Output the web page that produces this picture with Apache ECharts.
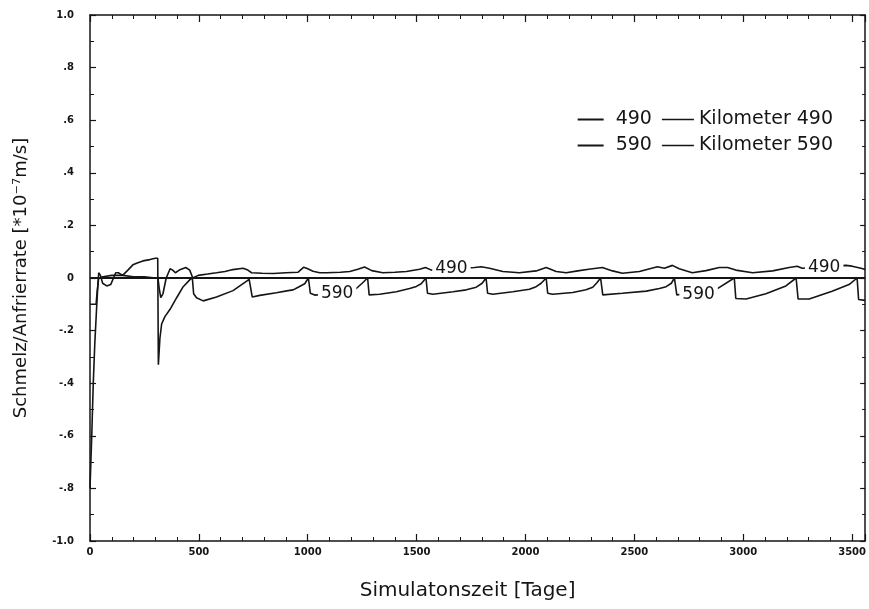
<!DOCTYPE html>
<html>
<head>
<meta charset="utf-8">
<script src="https://cdn.jsdelivr.net/npm/echarts@6/dist/echarts.min.js"></script>
<style>
html,body{margin:0;padding:0;background:#fff;}
#chart{width:869px;height:609px;}
</style>
</head>
<body>
<div id="chart"></div>
<script>
// ---- data ----
const days490 = [0,28,33,40,60,100,150,200,250,300,312,318,325,335,350,368,380,392,410,440,458,472,480,497,540,581,620,656,703,725,742,790,841,900,956,982,1000,1024,1055,1086,1150,1193,1230,1261,1294,1345,1400,1453,1514,1541,1568,1600,1650,1700,1736,1766,1797,1835,1896,1972,2049,2095,2141,2187,2240,2290,2353,2400,2445,2523,2606,2638,2675,2706,2766,2829,2890,2928,2966,3043,3135,3211,3248,3271,3320,3400,3472,3500,3541,3560];
const rate490 = [-0.1,-0.1,-0.05,0.0,0.005,0.01,0.01,0.005,0.005,0.0,0.0,-0.04,-0.075,-0.06,0.0,0.035,0.03,0.02,0.03,0.04,0.03,0.0,0.005,0.01,0.015,0.02,0.025,0.032,0.037,0.03,0.02,0.018,0.017,0.02,0.022,0.041,0.035,0.026,0.02,0.02,0.022,0.025,0.033,0.042,0.028,0.02,0.022,0.025,0.033,0.04,0.03,0.03,0.032,0.035,0.038,0.04,0.043,0.037,0.025,0.02,0.027,0.04,0.025,0.02,0.027,0.033,0.04,0.027,0.018,0.025,0.043,0.037,0.048,0.035,0.02,0.028,0.04,0.04,0.03,0.02,0.027,0.04,0.045,0.037,0.04,0.045,0.048,0.045,0.037,0.032];

const days590 = [0,8,15,22,30,36,40,48,58,77,95,108,118,130,150,174,197,220,243,275,300,311,314,321,329,344,367,398,428,459,470,476,489,520,581,657,731,737,745,780,856,910,933,956,986,1003,1012,1032,1080,1130,1180,1223,1250,1275,1282,1330,1407,1468,1499,1521,1543,1550,1575,1667,1728,1774,1801,1819,1826,1850,1942,2018,2049,2072,2095,2102,2125,2217,2278,2309,2329,2345,2355,2445,2555,2615,2646,2670,2684,2695,2740,2800,2876,2959,2966,3013,3104,3196,3243,3252,3303,3408,3486,3523,3530,3560];
const rate590 = [-0.8,-0.6,-0.4,-0.25,-0.12,-0.03,0.02,0.01,-0.02,-0.03,-0.025,0.0,0.02,0.02,0.01,0.03,0.05,0.058,0.065,0.07,0.075,0.075,-0.33,-0.23,-0.175,-0.147,-0.12,-0.075,-0.033,-0.006,0.0,-0.06,-0.075,-0.087,-0.072,-0.048,-0.005,0.0,-0.072,-0.066,-0.056,-0.048,-0.045,-0.035,-0.022,0.0,-0.058,-0.065,-0.062,-0.058,-0.052,-0.04,-0.02,0.0,-0.064,-0.062,-0.052,-0.04,-0.032,-0.022,0.0,-0.058,-0.062,-0.052,-0.045,-0.035,-0.02,0.0,-0.058,-0.062,-0.052,-0.043,-0.033,-0.02,0.0,-0.058,-0.062,-0.055,-0.045,-0.035,-0.017,0.0,-0.064,-0.058,-0.05,-0.04,-0.033,-0.02,0.0,-0.064,-0.06,-0.053,-0.043,0.0,-0.078,-0.08,-0.06,-0.03,0.0,-0.08,-0.08,-0.05,-0.025,0.0,-0.082,-0.085];

// inline curve labels [day, value]
const label490Pos = [[1660, 0.036], [3372, 0.04]];
const label590Pos = [[1135, -0.06], [2795, -0.062]];

const yTickLabels = ['-1.0','-.8','-.6','-.4','-.2','0','.2','.4','.6','.8','1.0'];
const seriesNames = ['Kilometer 490', 'Kilometer 590'];
const curveTags = ['490', '590'];

const INK = '#151515';
const pair = (xs, ys) => xs.map((x, i) => [x, ys[i]]);

const chart = echarts.init(document.getElementById('chart'), null, {renderer: 'canvas'});

const tickFont = {fontFamily: 'DejaVu Sans', fontSize: 10, fontWeight: 'bold', color: INK};
const inlineLabel = (txt) => ({
  show: true, position: 'inside', formatter: txt,
  fontFamily: 'DejaVu Sans', fontSize: 17, color: INK,
  backgroundColor: '#fff', padding: [0, 3]
});

const option = {
  backgroundColor: '#fff',
  animation: false,
  grid: {left: 90, right: 3, top: 15, bottom: 68},
  legend: {
    orient: 'vertical',
    right: 31, top: 105,
    itemGap: 7,
    itemWidth: 26, itemHeight: 2,
    icon: 'rect',
    data: seriesNames,
    formatter: (name) => {
      const tag = curveTags[seriesNames.indexOf(name)];
      return '{n|' + tag + '}{l|}{t|' + name + '}';
    },
    textStyle: {
      color: INK, fontFamily: 'DejaVu Sans', fontSize: 19,
      rich: {
        n: {fontFamily: 'DejaVu Sans', fontSize: 19, color: INK, padding: [0, 10, 0, 7]},
        l: {width: 32, height: 1.6, backgroundColor: INK},
        t: {fontFamily: 'DejaVu Sans', fontSize: 19, color: INK, padding: [0, 0, 0, 5]}
      }
    }
  },
  xAxis: [{
    type: 'value', position: 'bottom', min: 0, max: 3560, interval: 500,
    name: 'Simulatonszeit [Tage]', nameLocation: 'middle', nameGap: 40,
    nameTextStyle: {fontFamily: 'DejaVu Sans', fontSize: 20, color: INK, padding: [0, 20, 0, 0]},
    axisLine: {show: true, onZero: false, lineStyle: {color: INK, width: 1.5}},
    axisTick: {show: true, inside: true, length: 7, lineStyle: {color: INK, width: 1.2}},
    minorTick: {show: true, splitNumber: 5, length: 4, lineStyle: {color: INK, width: 1}},
    axisLabel: Object.assign({margin: 6, showMaxLabel: false, formatter: (v) => String(v)}, tickFont),
    splitLine: {show: false}
  }, {
    type: 'value', position: 'top', min: 0, max: 3560, interval: 500,
    axisLine: {show: true, onZero: false, lineStyle: {color: INK, width: 1.5}},
    axisTick: {show: true, inside: true, length: 7, lineStyle: {color: INK, width: 1.2}},
    minorTick: {show: true, splitNumber: 5, length: 4, lineStyle: {color: INK, width: 1}},
    axisLabel: {show: false},
    splitLine: {show: false}
  }],
  yAxis: [{
    type: 'value', position: 'left', min: -1, max: 1, interval: 0.2,
    name: 'Schmelz/Anfrierrate [*10⁻⁷m/s]', nameLocation: 'middle', nameGap: 60,
    nameTextStyle: {fontFamily: 'DejaVu Sans', fontSize: 18, color: INK},
    axisLine: {show: true, onZero: false, lineStyle: {color: INK, width: 1.5}},
    axisTick: {show: true, inside: true, length: 6, lineStyle: {color: INK, width: 1.2}},
    minorTick: {show: true, splitNumber: 2, length: 4, lineStyle: {color: INK, width: 1}},
    axisLabel: Object.assign({margin: 16, formatter: (v) => yTickLabels[Math.round((v + 1) / 0.2)]}, tickFont),
    splitLine: {show: false}
  }, {
    type: 'value', position: 'right', min: -1, max: 1, interval: 0.2,
    axisLine: {show: true, onZero: false, lineStyle: {color: INK, width: 1.5}},
    axisTick: {show: true, inside: true, length: 5, lineStyle: {color: INK, width: 1.2}},
    minorTick: {show: true, splitNumber: 2, length: 3, lineStyle: {color: INK, width: 1}},
    axisLabel: {show: false},
    splitLine: {show: false}
  }],
  series: [{
    name: seriesNames[0], type: 'line', xAxisIndex: 0, yAxisIndex: 0,
    data: pair(days490, rate490),
    showSymbol: false, symbol: 'none',
    lineStyle: {color: INK, width: 1.6},
    itemStyle: {color: INK},
    markLine: {
      silent: true, symbol: 'none', animation: false,
      label: {show: false},
      lineStyle: {color: INK, width: 2, type: 'solid'},
      data: [{yAxis: 0}]
    },
    markPoint: {
      silent: true, symbol: 'rect', symbolSize: 1,
      itemStyle: {color: 'rgba(0,0,0,0)'},
      label: inlineLabel(curveTags[0]),
      data: label490Pos.map(p => ({coord: p}))
    }
  }, {
    name: seriesNames[1], type: 'line', xAxisIndex: 0, yAxisIndex: 0,
    data: pair(days590, rate590),
    showSymbol: false, symbol: 'none',
    lineStyle: {color: INK, width: 1.6},
    itemStyle: {color: INK},
    markPoint: {
      silent: true, symbol: 'rect', symbolSize: 1,
      itemStyle: {color: 'rgba(0,0,0,0)'},
      label: inlineLabel(curveTags[1]),
      data: label590Pos.map(p => ({coord: p}))
    }
  }]
};
chart.setOption(option);
</script>
</body>
</html>
